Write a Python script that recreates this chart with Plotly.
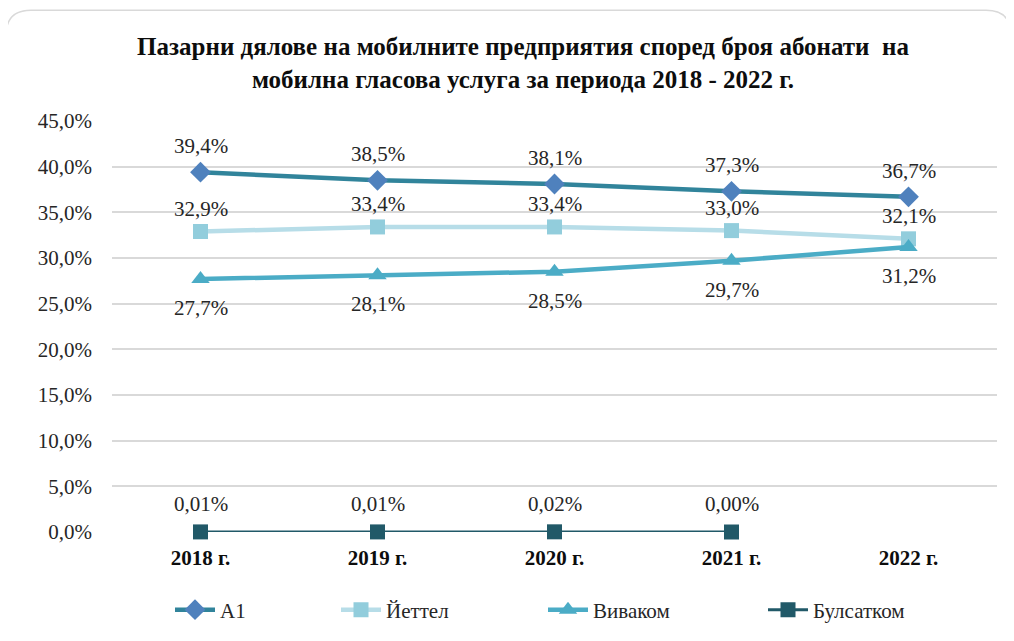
import plotly.graph_objects as go

categories = ["2018 г.", "2019 г.", "2020 г.", "2021 г.", "2022 г."]
a1 = [0.394, 0.385, 0.381, 0.373, 0.367]
yettel = [0.329, 0.334, 0.334, 0.330, 0.321]
vivacom = [0.277, 0.281, 0.285, 0.297, 0.312]
bulsat = [0.0001, 0.0001, 0.0002, 0.0000, None]
bulsat_labels = ["0,01%", "0,01%", "0,02%", "0,00%", ""]

OFF = 8  # page body margin offset
W, H = 1014 - OFF, 641 - OFF
L, R, T, B = 112 - OFF, 17, 121 - OFF, 108
pw, ph = W - L - R, H - T - B

def fx(px):
    return (px - OFF - L) / pw

def fy(py):
    return (H - B - (py - OFF)) / ph

def pct(v):
    return f"{v*100:.1f}%".replace(".", ",")

FONT = "Liberation Serif"
LBL = dict(family=FONT, size=21, color="#262626")

fig = go.Figure()

series = [
    ("A1", a1, "legend", dict(color="#31849B", width=4.5),
     dict(symbol="diamond", size=16, color="#4F81BD", line=dict(width=0)), 26),
    ("Йеттел", yettel, "legend2", dict(color="#B7DDE8", width=4.5),
     dict(symbol="square", size=15, color="#92CDDC", line=dict(width=0)), 23),
    ("Виваком", vivacom, "legend3", dict(color="#4BACC6", width=4.5),
     dict(symbol="triangle-up", size=16, color="#4BACC6", line=dict(width=0)), -29),
]
for name, vals, leg, line, marker, shift in series:
    fig.add_trace(go.Scatter(x=categories, y=vals, name=name, mode="lines+markers",
                             legend=leg, line=line, marker=marker, cliponaxis=False))
    for c, v in zip(categories, vals):
        fig.add_annotation(x=c, y=v, text=pct(v), showarrow=False, yshift=shift, font=LBL)

fig.add_trace(go.Scatter(
    x=categories, y=bulsat, name="Булсатком", mode="lines+markers", legend="legend4",
    line=dict(color="#215968", width=3), cliponaxis=False,
    marker=dict(symbol="square", size=15, color="#215968", line=dict(width=0)),
))
for c, v, t in zip(categories, bulsat, bulsat_labels):
    if v is None:
        continue
    fig.add_annotation(x=c, y=v, text=t, showarrow=False, yshift=28, font=LBL)

# rounded border around the chart
x0, x1 = fx(6), fx(1011)
y0, y1 = fy(650), fy(10)
rx = 25 / pw
ry = 25 / ph
path = (f"M {x0},{y0} L {x0},{y1-ry} Q {x0},{y1} {x0+rx},{y1} "
        f"L {x1-rx},{y1} Q {x1},{y1} {x1},{y1-ry} L {x1},{y0}")
fig.add_shape(type="path", path=path, xref="paper", yref="paper",
              line=dict(color="#D9D9D9", width=1.5), layer="below")

legfont = dict(family=FONT, size=21, color="#262626")
legs = {}
for key, px in zip(["legend", "legend2", "legend3", "legend4"], [170, 336, 543, 763]):
    legs[key] = dict(orientation="h", x=fx(px), xanchor="left", y=fy(610), yanchor="middle",
                     font=legfont, itemwidth=40, bgcolor="rgba(0,0,0,0)")

fig.update_layout(
    width=W, height=H,
    margin=dict(l=L, r=R, t=T, b=B),
    paper_bgcolor="white", plot_bgcolor="white",
    separators=",.",
    showlegend=True,
    font=dict(family=FONT, color="#262626"),
    title=dict(
        text="<b>Пазарни дялове на мобилните предприятия според броя абонати  на<br>мобилна гласова услуга за периода 2018 - 2022 г.</b>",
        x=(523 - OFF) / W, xanchor="center", y=1 - (55 - OFF) / H, yanchor="middle",
        font=dict(family=FONT, size=25, color="#0D0D0D"),
    ),
    xaxis=dict(
        type="category", range=[-0.5, 4.5], showgrid=False, zeroline=False, showline=False,
        tickfont=dict(family=FONT, size=21, color="#0D0D0D", weight="bold"),
        ticks="", ticklabelstandoff=11,
    ),
    yaxis=dict(
        range=[0, 0.45], dtick=0.05, tickformat=".1%",
        showgrid=True, gridcolor="#D9D9D9", gridwidth=2,
        zeroline=False, showline=False,
        tickfont=dict(family=FONT, size=21, color="#262626"),
        ticks="", ticklabelstandoff=19,
    ),
    **legs,
)

fig.write_html("out.html")
